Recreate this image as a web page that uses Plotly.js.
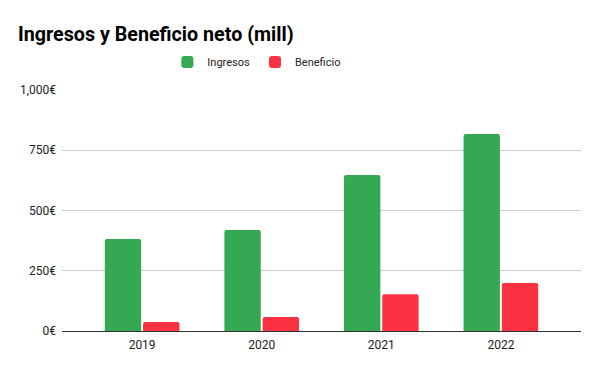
<!DOCTYPE html>
<html>
<head>
<meta charset="utf-8">
<script src="https://cdn.plot.ly/plotly-3.0.1.min.js"></script>
<style>html,body{margin:0;padding:0;background:#fff;}#chart{width:600px;height:371px;}</style>
</head>
<body>
<div id="chart"></div>
<script>
const years = ['2019', '2020', '2021', '2022'];
const ingresos = [382, 419, 647, 817];
const beneficio = [37, 58, 153, 199];
const yTicks = [0, 250, 500, 750, 1000];
const yTickText = ['0€', '250€', '500€', '750€', '1,000€'];

const traces = [
  {type: 'bar', name: 'Ingresos', x: years, y: ingresos,
   marker: {color: '#34a853', cornerradius: 2}, hoverinfo: 'none'},
  {type: 'bar', name: 'Beneficio', x: years, y: beneficio,
   marker: {color: '#fa3241', cornerradius: 2}, hoverinfo: 'none'}
];

const layout = {
  width: 600, height: 371,
  margin: {l: 62, r: 19, t: 90, b: 40},
  paper_bgcolor: '#fff', plot_bgcolor: '#fff',
  font: {family: 'Roboto, sans-serif', size: 12, color: '#222'},
  title: {text: '<b>Ingresos y Beneficio neto (mill)</b>', xref: 'container', x: 0.03, xanchor: 'left',
          yref: 'container', y: 0.89, yanchor: 'bottom', font: {size: 19.7, color: '#000', family: 'Roboto, sans-serif'}},
  showlegend: true,
  legend: {orientation: 'h', x: 0.203, xanchor: 'left', y: 1.116, yanchor: 'middle',
           font: {size: 11, color: '#222'}, itemwidth: 30, tracegroupgap: 0},
  barmode: 'group', bargap: 0.36, bargroupgap: 0.05,
  xaxis: {type: 'category', range: [-0.67, 3.67], showgrid: false, zeroline: false, showline: false,
          ticks: '', ticklabelstandoff: 5, tickfont: {size: 12, color: '#222'}},
  yaxis: {range: [0, 1000], tickvals: yTicks, ticktext: yTickText,
          showgrid: true, gridcolor: '#cccccc', gridwidth: 1, zeroline: true, zerolinecolor: '#333', zerolinewidth: 1,
          showline: false, ticks: '', ticklabelstandoff: 5, tickfont: {size: 12, color: '#222'}, automargin: false}
};

Plotly.newPlot('chart', traces, layout, {displayModeBar: false, staticPlot: true});
</script>
</body>
</html>
